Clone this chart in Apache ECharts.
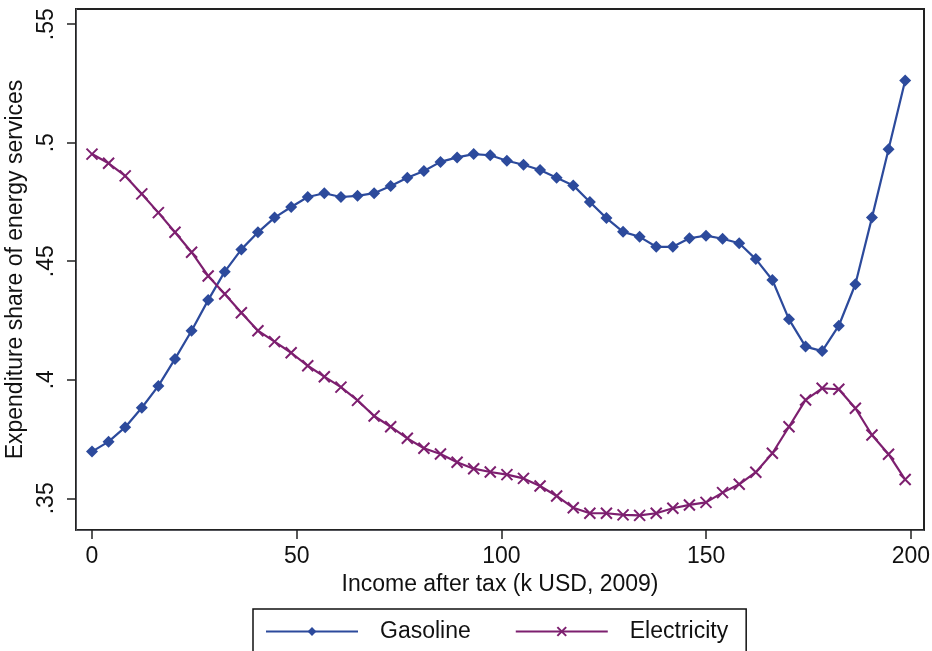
<!DOCTYPE html>
<html>
<head>
<meta charset="utf-8">
<script src="https://cdn.jsdelivr.net/npm/echarts@6/dist/echarts.min.js"></script>
<style>
html,body{margin:0;padding:0;background:#fff;}
#chart{width:932px;height:651px;}
</style>
</head>
<body>
<div id="chart"></div>
<script>
// Income after tax (k USD, 2009) at each point
var income = [0, 4.05, 8.11, 12.16, 16.21, 20.27, 24.32, 28.37, 32.42, 36.48,
  40.53, 44.58, 48.64, 52.69, 56.74, 60.8, 64.85, 68.9, 72.95, 77.01,
  81.06, 85.11, 89.17, 93.22, 97.27, 101.33, 105.38, 109.43, 113.48, 117.54,
  121.59, 125.64, 129.7, 133.75, 137.8, 141.86, 145.91, 149.96, 154.01, 158.07,
  162.12, 166.17, 170.23, 174.28, 178.33, 182.39, 186.44, 190.49, 194.54, 198.6];

var gasoline = [0.3697, 0.3739, 0.3800, 0.3882, 0.3974, 0.4088, 0.4207, 0.4336, 0.4456, 0.4550,
  0.4622, 0.4684, 0.4729, 0.4771, 0.4787, 0.4771, 0.4776, 0.4787, 0.4817, 0.4852,
  0.4881, 0.4919, 0.4938, 0.4952, 0.4947, 0.4924, 0.4907, 0.4885, 0.4852, 0.4820,
  0.4750, 0.4682, 0.4624, 0.4603, 0.4561, 0.4561, 0.4597, 0.4608, 0.4595, 0.4576,
  0.4509, 0.4421, 0.4255, 0.4140, 0.4121, 0.4228, 0.4403, 0.4684, 0.4972, 0.5262];

var electricity = [0.4952, 0.4913, 0.4860, 0.4784, 0.4705, 0.4622, 0.4538, 0.4438, 0.4362, 0.4283,
  0.4207, 0.4161, 0.4114, 0.4059, 0.4013, 0.3969, 0.3913, 0.3847, 0.3802, 0.3753,
  0.3711, 0.3687, 0.3652, 0.3625, 0.3611, 0.3600, 0.3584, 0.3552, 0.3510, 0.3460,
  0.3437, 0.3437, 0.3430, 0.3428, 0.3437, 0.3458, 0.3472, 0.3483, 0.3524, 0.3559,
  0.3610, 0.3690, 0.3802, 0.3915, 0.3964, 0.3960, 0.3880, 0.3767, 0.3686, 0.3579];

var xTicks = [0, 50, 100, 150, 200];
var yTicks = [0.35, 0.40, 0.45, 0.50, 0.55];

var seriesNames = ['Gasoline', 'Electricity'];

function pairs(xs, ys) {
  return xs.map(function (x, i) { return [x, ys[i]]; });
}

var FONT = '"Liberation Sans", Arial, Helvetica, sans-serif';
var BLUE = '#2c4a9c';
var PURPLE = '#7d1f6f';

var chart = echarts.init(document.getElementById('chart'), null, {renderer: 'canvas'});
chart.setOption({
  animation: false,
  backgroundColor: '#fff',
  grid: {
    left: 76, top: 9, right: 8, bottom: 121,
    containLabel: false, outerBoundsMode: 'none',
    show: true, borderColor: '#222', borderWidth: 2
  },
  xAxis: {
    type: 'value',
    min: -3.91, max: 203.2,
    name: 'Income after tax (k USD, 2009)',
    nameLocation: 'middle', nameGap: 38,
    nameTextStyle: {fontFamily: FONT, fontSize: 23, color: '#111'},
    axisLine: {show: true, onZero: false},
    splitLine: {show: false},
    axisTick: {show: true, length: 9, lineStyle: {color: '#222', width: 1.5}, customValues: xTicks},
    axisLabel: {fontFamily: FONT, fontSize: 23, color: '#111', margin: 15, customValues: xTicks,
      formatter: function (v) { return String(Math.round(v)); }}
  },
  yAxis: {
    type: 'value',
    min: 0.33663, max: 0.5564,
    name: 'Expenditure share of energy services',
    nameLocation: 'middle', nameGap: 35, nameRotate: 90,
    nameTextStyle: {fontFamily: FONT, fontSize: 23, color: '#111'},
    axisLine: {show: true, onZero: false},
    splitLine: {show: false},
    axisTick: {show: true, length: 9, lineStyle: {color: '#222', width: 1.5}, customValues: yTicks},
    axisLabel: {fontFamily: FONT, fontSize: 23, color: '#111', margin: 18, rotate: 90, customValues: yTicks,
      formatter: function (v) { return String(Math.round(v * 100) / 100).replace(/^0/, ''); }}
  },
  legend: {
    left: 253, top: 609,
    padding: [11, 18, 30, 12],
    borderColor: '#111', borderWidth: 1.5,
    itemWidth: 92, itemHeight: 11, itemGap: 44,
    textStyle: {fontFamily: FONT, fontSize: 23, color: '#111', padding: [0, 0, 0, 17]},
    data: seriesNames
  },
  series: [
    {
      name: seriesNames[0], type: 'line',
      data: pairs(income, gasoline),
      symbol: 'diamond', symbolSize: 12,
      lineStyle: {color: BLUE, width: 2.2},
      itemStyle: {color: BLUE},
      emphasis: {disabled: true}
    },
    {
      name: seriesNames[1], type: 'line',
      data: pairs(income, electricity),
      symbol: 'path://M0,0L10,10M0,10L10,0', symbolSize: 11,
      lineStyle: {color: PURPLE, width: 2.2},
      itemStyle: {color: PURPLE, borderColor: PURPLE, borderWidth: 2},
      emphasis: {disabled: true}
    }
  ]
});
</script>
</body>
</html>
